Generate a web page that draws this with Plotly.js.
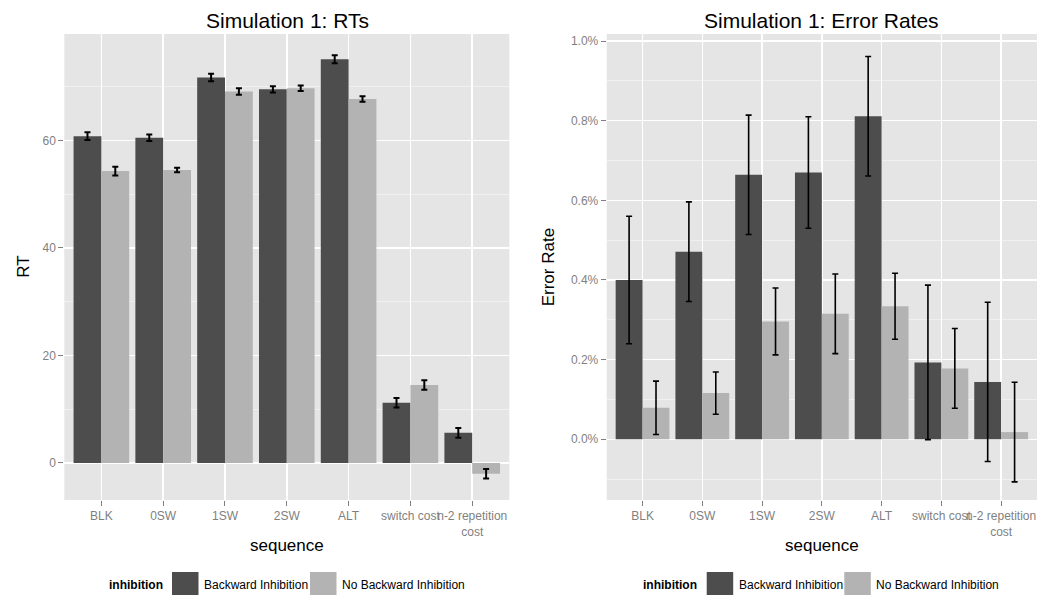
<!DOCTYPE html>
<html>
<head>
<meta charset="utf-8">
<script src="https://cdn.plot.ly/plotly-3.0.1.min.js"></script>
<style>html,body{margin:0;padding:0;background:#fff;}#chart{width:1039px;height:595px;}</style>
</head>
<body>
<div id="chart"></div>
<script>
const categories = ['BLK', '0SW', '1SW', '2SW', 'ALT', 'switch cost', 'n-2 repetition<br>cost'];
const seriesNames = ['Backward Inhibition', 'No Backward Inhibition'];

// Simulation 1: RTs
const rtBackward = [60.8, 60.5, 71.7, 69.5, 75.1, 11.2, 5.6];
const rtBackwardErr = [0.7, 0.6, 0.7, 0.6, 0.75, 0.9, 0.9];
const rtNoBackward = [54.3, 54.5, 69.1, 69.7, 67.7, 14.5, -2.0];
const rtNoBackwardErr = [0.8, 0.4, 0.6, 0.5, 0.5, 0.9, 0.9];

// Simulation 1: Error Rates (percent)
const errBackward = [0.400, 0.471, 0.664, 0.670, 0.811, 0.193, 0.144];
const errBackwardErr = [0.16, 0.125, 0.15, 0.14, 0.15, 0.194, 0.2];
const errNoBackward = [0.079, 0.116, 0.296, 0.315, 0.334, 0.178, 0.018];
const errNoBackwardErr = [0.067, 0.053, 0.084, 0.1, 0.083, 0.1, 0.125];

const rtTicks = [0, 20, 40, 60];
const errTicks = [0.0, 0.2, 0.4, 0.6, 0.8, 1.0];

const DARK = '#4d4d4d', LIGHT = '#b3b3b3';
const FONT = 'Liberation Sans, Arial, Helvetica, sans-serif';
const W = 1039, H = 595;
const px = x => x / W;
const py = y => (H - y) / H;

function barTrace(y, err, name, color, xa, ya, thick) {
  return {
    type: 'bar', x: categories, y: y, name: name, xaxis: xa, yaxis: ya,
    marker: {color: color, line: {width: 0}},
    error_y: {type: 'data', array: err, visible: true, color: '#000', thickness: thick, width: 3},
    showlegend: false, hoverinfo: 'x+y'
  };
}

const data = [
  barTrace(rtBackward, rtBackwardErr, seriesNames[0], DARK, 'x', 'y', 2),
  barTrace(rtNoBackward, rtNoBackwardErr, seriesNames[1], LIGHT, 'x', 'y', 2),
  barTrace(errBackward, errBackwardErr, seriesNames[0], DARK, 'x2', 'y2', 1.6),
  barTrace(errNoBackward, errNoBackwardErr, seriesNames[1], LIGHT, 'x2', 'y2', 1.6)
];

const tickFont = {family: FONT, size: 12, color: '#7f7f7f'};
const xCommon = {
  type: 'category', categoryorder: 'array', categoryarray: categories,
  range: [-0.6, 6.6], showgrid: true, gridcolor: '#ffffff', gridwidth: 1.5,
  ticks: 'outside', ticklen: 5, tickcolor: '#7f7f7f', tickwidth: 1, tickangle: 0,
  tickfont: tickFont, showline: false, zeroline: false, automargin: false, fixedrange: true
};
const yCommon = {
  showgrid: true, gridcolor: '#ffffff', gridwidth: 1.5,
  ticks: 'outside', ticklen: 5, tickcolor: '#7f7f7f', tickwidth: 1,
  tickfont: tickFont, showline: false, zeroline: false, automargin: false, fixedrange: true
};
const yDomain = [py(500), py(34)];

const layout = {
  width: W, height: H,
  margin: {l: 0, r: 0, t: 0, b: 0},
  paper_bgcolor: '#ffffff', plot_bgcolor: '#e5e5e5',
  barmode: 'group', bargap: 0.1, bargroupgap: 0,
  font: {family: FONT, color: '#000'},
  xaxis: Object.assign({}, xCommon, {domain: [px(64.3), px(509.3)], anchor: 'y'}),
  yaxis: Object.assign({}, yCommon, {domain: yDomain, anchor: 'x', range: [-6.89, 79.8],
    tickvals: rtTicks, ticktext: rtTicks.map(String),
    minor: {dtick: 10, tick0: 0, showgrid: true, gridcolor: '#f2f2f2', gridwidth: 0.8, ticks: ''}}),
  xaxis2: Object.assign({}, xCommon, {domain: [px(606.7), px(1037)], anchor: 'y2'}),
  yaxis2: Object.assign({}, yCommon, {domain: yDomain, anchor: 'x2', range: [-0.1525, 1.0176],
    tickvals: errTicks, ticktext: errTicks.map(v => v.toFixed(1) + '%'),
    minor: {dtick: 0.1, tick0: 0, showgrid: true, gridcolor: '#f2f2f2', gridwidth: 0.8, ticks: ''}}),
  annotations: [],
  shapes: []
};

function ann(text, x, y, opts) {
  layout.annotations.push(Object.assign({
    text: text, x: px(x), y: py(y), xref: 'paper', yref: 'paper',
    xanchor: 'center', yanchor: 'middle', showarrow: false,
    font: {family: FONT, size: 12, color: '#000'}
  }, opts || {}));
}

// titles
ann('Simulation 1: RTs', 287, 21, {font: {family: FONT, size: 21, color: '#000'}});
ann('Simulation 1: Error Rates', 821, 21, {font: {family: FONT, size: 21, color: '#000'}});
ann('sequence', 287, 545, {font: {family: FONT, size: 17, color: '#000'}});
ann('sequence', 821.7, 545, {font: {family: FONT, size: 17, color: '#000'}});
ann('RT', 22.7, 267, {textangle: -90, font: {family: FONT, size: 17, color: '#000'}});
ann('Error Rate', 548.3, 267, {textangle: -90, font: {family: FONT, size: 17, color: '#000'}});

// legends
function legend(titleRight, box1, text1, box2, text2) {
  ann('<b>inhibition</b>', titleRight, 585, {xanchor: 'right'});
  layout.shapes.push({type: 'rect', xref: 'paper', yref: 'paper', x0: px(box1), x1: px(box1 + 26.5),
    y0: 0, y1: py(572), fillcolor: DARK, line: {width: 0}});
  layout.shapes.push({type: 'rect', xref: 'paper', yref: 'paper', x0: px(box2), x1: px(box2 + 26.5),
    y0: 0, y1: py(572), fillcolor: LIGHT, line: {width: 0}});
  ann(seriesNames[0], text1, 585, {xanchor: 'left'});
  ann(seriesNames[1], text2, 585, {xanchor: 'left'});
}
legend(164.5, 172, 202, 310, 339.7);
legend(699, 706.7, 737, 844.3, 874.3);

Plotly.newPlot('chart', data, layout, {displayModeBar: false, staticPlot: true});
</script>
</body>
</html>
